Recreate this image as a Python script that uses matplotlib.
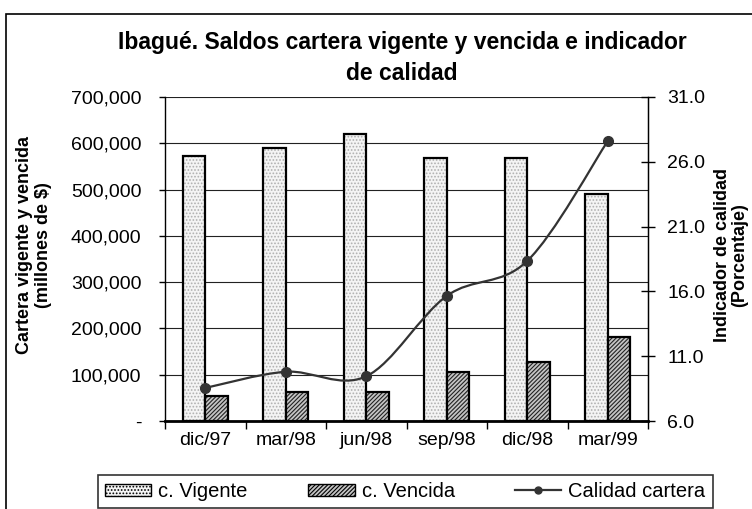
import numpy as np
import matplotlib
matplotlib.use("Agg")
import matplotlib.pyplot as plt
import matplotlib.patches as patches
from matplotlib.path import Path
from matplotlib.lines import Line2D
from matplotlib.ticker import FuncFormatter

plt.rcParams['font.family'] = ['Liberation Sans', 'DejaVu Sans']
plt.rcParams['hatch.linewidth'] = 0.8

# data
periodos = ['dic/97', 'mar/98', 'jun/98', 'sep/98', 'dic/98', 'mar/99']
vigente = [573000, 590000, 620000, 569000, 569000, 491000]
vencida = [54000, 62000, 62000, 106000, 127000, 181000]
calidad = [8.55, 9.8, 9.45, 15.65, 18.35, 27.6]

fig = plt.figure(figsize=(7.52, 5.09), dpi=100)
ax = fig.add_axes([165/752, 1 - 421/509, 483/752, 324/509])
ax2 = ax.twinx()

x = np.arange(len(periodos))
w = 0.28
# fill with pattern, then black outline on top
ax.bar(x - w, vigente, w, align='edge', facecolor='#f4f4f4', edgecolor='#b0b0b0',
       linewidth=0, hatch='.....', zorder=3)
ax.bar(x - w, vigente, w, align='edge', facecolor='none', edgecolor='black',
       linewidth=1.6, zorder=3)
ax.bar(x, vencida, w, align='edge', facecolor='#c4c4c4', edgecolor='#222222',
       linewidth=0, hatch='////////', zorder=3)
ax.bar(x, vencida, w, align='edge', facecolor='none', edgecolor='black',
       linewidth=1.6, zorder=3)

ax.set_xlim(-0.5, len(periodos) - 0.5)
ax.set_ylim(0, 700000)
ax.set_yticks(np.arange(0, 700001, 100000))
ax.yaxis.set_major_formatter(FuncFormatter(lambda v, p: '-' if v == 0 else f'{int(v):,}'))
ax.grid(axis='y', color='#222222', linewidth=0.8, zorder=0)
ax.set_axisbelow(True)
ax.set_xticks(np.arange(-0.5, len(periodos)), labels=[])
ax.set_xticks(x, labels=periodos, minor=True)
ax.tick_params(axis='x', which='major', length=6, width=1, direction='out')
ax.tick_params(axis='x', which='minor', length=0, labelsize=14, pad=8)
ax.tick_params(axis='y', length=4, width=1, direction='out', labelsize=14, pad=13)
ax.spines['top'].set_visible(False)
ax.spines['bottom'].set_linewidth(2)
ax.spines['left'].set_linewidth(1)

# smooth line (bezier through the points)
pts = np.column_stack([x, calidad])
verts = [tuple(pts[0])]
codes = [Path.MOVETO]
for i in range(len(pts) - 1):
    p0 = pts[i - 1] if i > 0 else pts[i]
    p1 = pts[i]
    p2 = pts[i + 1]
    p3 = pts[i + 2] if i + 2 < len(pts) else pts[i + 1]
    c1 = p1 + (p2 - p0) / 6
    c2 = p2 - (p3 - p1) / 6
    verts += [tuple(c1), tuple(c2), tuple(p2)]
    codes += [Path.CURVE4] * 3
ax2.add_patch(patches.PathPatch(Path(verts, codes), facecolor='none',
                                edgecolor='#333333', linewidth=1.6, zorder=4))
ax2.plot(x, calidad, 'o', color='#333333', markersize=7, zorder=5)
ax2.set_ylim(6, 31)
ax2.set_yticks(np.arange(6, 31.1, 5))
ax2.yaxis.set_major_formatter(FuncFormatter(lambda v, p: f'{v:.1f}'))
ax2.tick_params(axis='y', length=10, width=1, direction='inout', labelsize=14, pad=9)
ax2.spines['top'].set_visible(False)
ax2.spines['left'].set_visible(False)
ax2.spines['bottom'].set_visible(False)
ax2.spines['right'].set_linewidth(1)

# axis titles
fig.text(34/752, 1 - 245/509, 'Cartera vigente y vencida\n(millones de $)',
         rotation=90, ha='center', va='center', fontsize=13, fontweight='bold',
         multialignment='center', linespacing=1.1)
fig.text(731/752, 1 - 255/509, 'Indicador de calidad\n(Porcentaje)',
         rotation=90, ha='center', va='center', fontsize=13, fontweight='bold',
         multialignment='center', linespacing=1.05)

fig.text(402/752, 1 - 58/509,
         'Ibagué. Saldos cartera vigente y vencida e indicador\nde calidad',
         ha='center', va='center', fontsize=16.5, fontweight='bold',
         linespacing=1.45)

# outer frame
fig.patches.append(patches.Rectangle((6/752, -0.1), 1.0, 1 - 14/509 + 0.1,
                                     transform=fig.transFigure, fill=False,
                                     edgecolor='black', linewidth=1.2))

handles = [
    patches.Patch(facecolor='#f4f4f4', edgecolor='black', hatch='.....', linewidth=1),
    patches.Patch(facecolor='#c4c4c4', edgecolor='black', hatch='////////', linewidth=1),
    Line2D([], [], color='#333333', linewidth=1.6, marker='o', markersize=5),
]
leg = fig.legend(handles, ['c. Vigente', 'c. Vencida', 'Calidad cartera'],
                 loc='upper left', bbox_to_anchor=(98/752, 1 - 475/509),
                 ncol=3, fontsize=14.5, frameon=True, fancybox=False,
                 edgecolor='black', borderpad=0.35, borderaxespad=0,
                 handlelength=2.3, handleheight=0.6,
                 handletextpad=0.35, columnspacing=3.0)
leg.get_frame().set_linewidth(1.2)

fig.savefig('out.png', dpi=100)
